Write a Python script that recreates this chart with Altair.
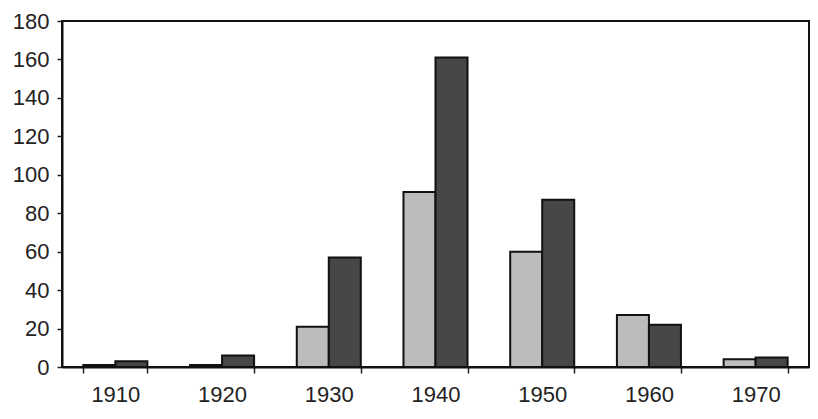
import altair as alt
import pandas as pd

decades = ["1910", "1920", "1930", "1940", "1950", "1960", "1970"]
series_light = [1, 1, 21, 91, 60, 27, 4]
series_dark = [3, 6, 57, 161, 87, 22, 5]

rows = []
for d, a, b in zip(decades, series_light, series_dark):
    rows.append({"decade": d, "series": "A", "value": a})
    rows.append({"decade": d, "series": "B", "value": b})
df = pd.DataFrame(rows)

FONT = "Liberation Sans"

chart = alt.Chart(df).mark_bar(stroke="#111111", strokeWidth=2).encode(
    x=alt.X("decade:N", sort=decades, title=None,
            scale=alt.Scale(paddingInner=0.4, paddingOuter=0.2),
            axis=alt.Axis(labelAngle=0, labelFont=FONT, labelFontSize=22,
                          labelColor="#222222", labelPadding=11,
                          tickBand="extent", tickSize=6, tickColor="#222222",
                          domainColor="#111111", domainWidth=2, tickWidth=1.5)),
    xOffset=alt.XOffset("series:N", sort=["A", "B"]),
    y=alt.Y("value:Q", title=None,
            scale=alt.Scale(domain=[0, 180], nice=False),
            axis=alt.Axis(values=list(range(0, 181, 20)), grid=False,
                          labelFont=FONT, labelFontSize=22, labelColor="#222222",
                          labelPadding=8, tickSize=5, tickColor="#222222",
                          domainColor="#111111", domainWidth=2, tickWidth=1.5)),
    color=alt.Color("series:N", sort=["A", "B"],
                    scale=alt.Scale(domain=["A", "B"], range=["#bcbcbc", "#474747"]),
                    legend=None),
).properties(
    width=747,
    height=346,
    autosize=alt.AutoSizeParams(type="none"),
    padding={"left": 54, "top": 13, "right": 1, "bottom": 44},
).configure(
    background="white"
).configure_view(
    stroke="#111111", strokeWidth=2
)

chart.save("out.html", embed_options={"renderer": "svg", "actions": False})
